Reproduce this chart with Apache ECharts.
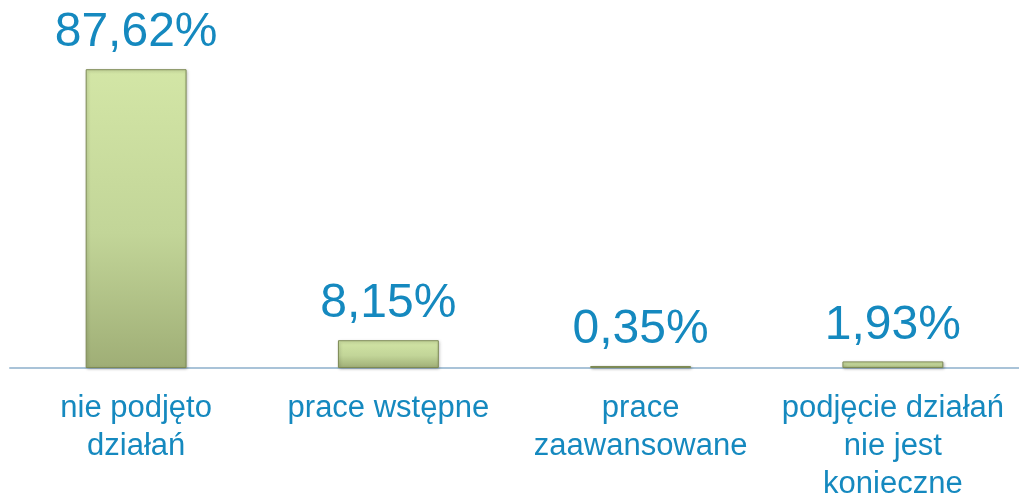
<!DOCTYPE html>
<html>
<head>
<meta charset="utf-8">
<script src="https://cdn.jsdelivr.net/npm/echarts@6/dist/echarts.min.js"></script>
<style>
  html, body { margin: 0; padding: 0; background: #fff; }
  #container { width: 1019px; height: 493px; }
</style>
</head>
<body>
<div id="container"></div>
<script>
var categories = [
  "nie podjęto\ndziałań",
  "prace wstępne",
  "prace\nzaawansowane",
  "podjęcie działań\nnie jest\nkonieczne"
];
var values = [87.62, 8.15, 0.35, 1.93];

var chartDom = document.getElementById("container");
var myChart = echarts.init(chartDom);
var textColor = "#1589bf";

var option = {
  animation: false,
  grid: {
    left: 10,
    right: 0,
    top: 27,
    bottom: 125,
    containLabel: false,
    outerBoundsMode: "none"
  },
  xAxis: {
    type: "category",
    data: categories,
    axisTick: { show: false },
    axisLine: {
      lineStyle: { color: "#a9c3d8", width: 2 }
    },
    axisLabel: {
      interval: 0,
      margin: 21,
      color: textColor,
      fontSize: 31,
      lineHeight: 38,
      fontFamily: "Liberation Sans"
    }
  },
  yAxis: {
    type: "value",
    min: 0,
    max: 100,
    show: false,
    splitLine: { show: false }
  },
  series: [
    {
      type: "bar",
      data: values,
      barWidth: "40%",
      barMinHeight: 2,
      itemStyle: {
        color: new echarts.graphic.LinearGradient(0, 0, 0, 1, [
          { offset: 0, color: "#d3e6a6" },
          { offset: 0.55, color: "#c2d598" },
          { offset: 1, color: "#9fae76" }
        ]),
        borderColor: "#7d8a55",
        borderWidth: 1,
        shadowColor: "rgba(0,0,0,0.25)",
        shadowBlur: 3,
        shadowOffsetX: 1,
        shadowOffsetY: 1
      },
      label: {
        show: true,
        position: "top",
        distance: 12,
        color: textColor,
        fontSize: 48,
        fontFamily: "Liberation Sans",
        formatter: function(p) {
          return p.value.toFixed(2).replace(".", ",") + "%";
        }
      }
    }
  ]
};
option && myChart.setOption(option);
</script>
</body>
</html>
